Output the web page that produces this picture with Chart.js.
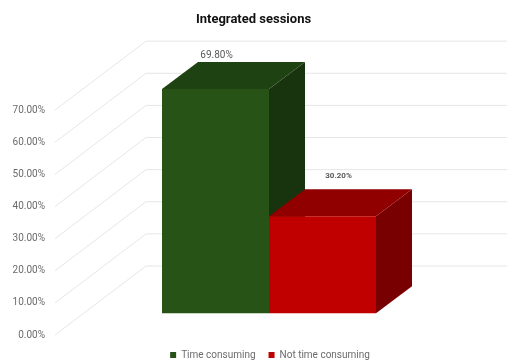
<!DOCTYPE html>
<html><head><meta charset="utf-8">
<style>html,body{margin:0;padding:0;background:#fff}#w{width:507px;height:361px}</style>
<script src="https://cdn.jsdelivr.net/npm/chart.js@4"></script></head>
<body><div id="w"><canvas id="c"></canvas></div>
<script>
const chartTitle = 'Integrated sessions';
const categories = ['Integrated sessions'];
const seriesNames = ['Time consuming', 'Not time consuming'];
const seriesValues = [69.8, 30.2];
const tickValues = [0, 10, 20, 30, 40, 50, 60, 70];

const frontColors = ['#275317', '#C00000'];
const topColors = ['#1F4212', '#900000'];
const sideColors = ['#18340E', '#780000'];
const depthX = 36, depthY = 27;
const wallX = 91, wallY = 69, wallRight = 507;
const labelShift = [[1, -34], [16, -40]];
const labelFonts = ['10px Roboto', 'bold 8px Roboto'];
const legendCenterX = 270, legendCenterY = 355;

const fmt = v => v.toFixed(2) + '%';

const poly = (c, pts, fill) => {
  c.fillStyle = fill;
  c.beginPath();
  pts.forEach((p, i) => i ? c.lineTo(p[0], p[1]) : c.moveTo(p[0], p[1]));
  c.closePath();
  c.fill();
};

const scene = {
  id: 'scene',
  afterLayout(ch) {
    const L = ch.legend;
    const dy = legendCenterY - (L.top + L.options.labels.padding + 5);
    const dx = legendCenterX - (L.left + L.right) / 2;
    L.top += dy; L.bottom += dy; L.left += dx; L.right += dx;
  },
  beforeDatasetsDraw(ch) {
    const c = ch.ctx, s = ch.scales.y, A = ch.chartArea.left;
    c.save();
    c.strokeStyle = '#E6E6E6';
    c.lineWidth = 1;
    s.ticks.forEach(t => {
      const y = s.getPixelForValue(t.value);
      c.beginPath();
      c.moveTo(A, y);
      c.lineTo(A + wallX, y - wallY);
      c.lineTo(wallRight, y - wallY);
      c.stroke();
    });
    seriesValues.forEach((v, i) => {
      const bar = ch.getDatasetMeta(i).data[0];
      const l = bar.x - bar.width / 2, r = bar.x + bar.width / 2, t = bar.y, b = bar.base;
      poly(c, [[r, t], [r + depthX, t - depthY], [r + depthX, b - depthY], [r, b]], sideColors[i]);
      poly(c, [[l, t], [l + depthX, t - depthY], [r + depthX, t - depthY], [r, t]], topColors[i]);
    });
    c.restore();
  },
  afterDatasetsDraw(ch) {
    const c = ch.ctx;
    c.save();
    c.fillStyle = '#595959';
    c.textAlign = 'center';
    c.textBaseline = 'middle';
    seriesValues.forEach((v, i) => {
      const bar = ch.getDatasetMeta(i).data[0];
      c.font = labelFonts[i];
      c.fillText(fmt(v), bar.x + labelShift[i][0], bar.y + labelShift[i][1]);
    });
    c.restore();
  }
};

new Chart(document.getElementById('c'), {
  type: 'bar',
  data: {
    labels: categories,
    datasets: seriesNames.map((n, i) => ({
      label: n,
      data: [seriesValues[i]],
      backgroundColor: frontColors[i],
      yAxisID: 'bars',
      categoryPercentage: 0.5,
      barPercentage: 1
    }))
  },
  options: {
    responsive: true,
    maintainAspectRatio: false,
    animation: false,
    layout: { padding: { top: 7, right: 0, bottom: -7, left: 0 } },
    scales: {
      x: { display: false },
      y: {
        position: 'left',
        min: 0,
        max: 91.65,
        afterBuildTicks: s => { s.ticks = tickValues.map(v => ({ value: v })); },
        afterFit: s => { s.width = 55; },
        grid: { display: false },
        border: { display: false },
        ticks: { callback: v => fmt(v), color: '#6B6B6B', font: { family: 'Roboto', size: 10 }, padding: 2, autoSkip: false }
      },
      bars: {
        position: 'right',
        min: -6.75,
        max: 84.9,
        afterFit: s => { s.width = 24; },
        grid: { display: false },
        border: { display: false },
        ticks: { display: false }
      }
    },
    plugins: {
      tooltip: { enabled: false },
      title: {
        display: true,
        text: chartTitle,
        color: '#111111',
        font: { family: 'Roboto', size: 13, weight: 'bold' },
        padding: { top: 5, bottom: 13 }
      },
      legend: {
        position: 'bottom',
        labels: { boxWidth: 6, boxHeight: 6, padding: 13, color: '#6B6B6B', font: { family: 'Roboto', size: 10 } }
      }
    }
  },
  plugins: [scene]
});
</script></body></html>
